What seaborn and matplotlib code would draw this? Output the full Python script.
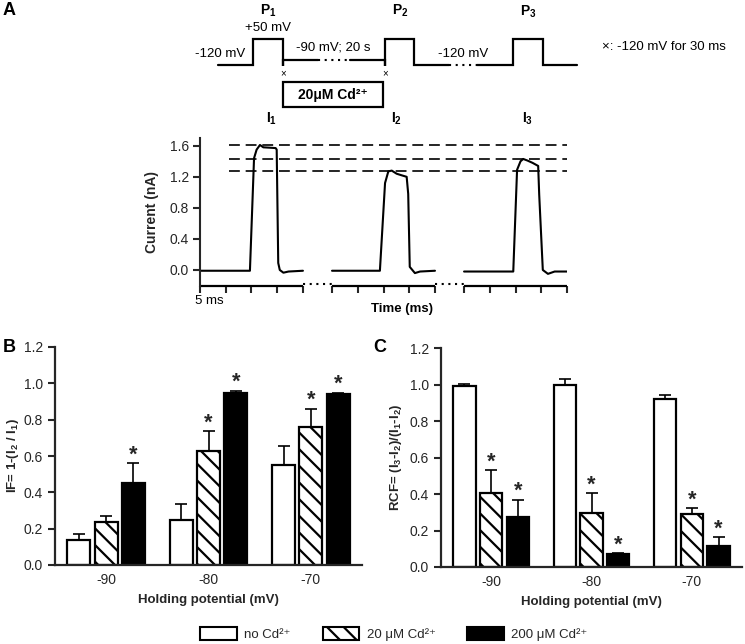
import numpy as np
import pandas as pd
import matplotlib
matplotlib.use("Agg")
import matplotlib.pyplot as plt
import matplotlib.transforms as mtransforms
import seaborn as sns
from matplotlib.patches import Patch, Rectangle

sns.set_theme(style="ticks")
plt.rcParams['font.family'] = ['Liberation Sans', 'DejaVu Sans']
plt.rcParams['mathtext.fontset'] = 'custom'
plt.rcParams['mathtext.rm'] = 'Liberation Sans'
plt.rcParams['mathtext.bf'] = 'Liberation Sans:bold'
plt.rcParams['mathtext.it'] = 'Liberation Sans:italic'
plt.rcParams['hatch.linewidth'] = 1.6
plt.rcParams['hatch.color'] = 'black'

# ---- data ----
# current traces (time in ms from start of each 20 ms sweep, current in nA)
t1 = [0, 5, 9.7, 10.5, 11.0, 11.65, 12.3, 13.6, 14.7, 14.9, 15.2, 15.5, 16.2, 17.2, 20]
i1 = [-0.01, -0.01, -0.01, 1.44, 1.55, 1.61, 1.58, 1.575, 1.57, 1.55, 0.09, 0.0, -0.035, -0.02, -0.01]
t2 = [0, 5, 9.3, 10.3, 10.94, 11.6, 12.55, 13.5, 14.5, 14.8, 15.1, 16.1, 17.1, 20]
i2 = [-0.01, -0.01, -0.01, 1.12, 1.27, 1.28, 1.24, 1.22, 1.20, 0.98, 0.04, -0.04, -0.02, -0.01]
t3 = [0, 5, 9.56, 10.3, 10.97, 11.5, 12.3, 13.3, 14.4, 14.6, 15.3, 16.3, 17.6, 20]
i3 = [-0.02, -0.02, -0.02, 1.29, 1.40, 1.43, 1.41, 1.38, 1.34, 0.97, 0.0, -0.05, -0.02, -0.02]
peak_levels = [1.61, 1.43, 1.28]
seg_starts = [0, 25.65, 51.3]
seg_len = 20

# stimulation protocol (schematic time units, mV)
prot_t = [[218, 253, 253, 283, 283, 283, 318],
          [350, 385, 385, 385, 414, 414, 449],
          [477, 513, 513, 543, 543, 577]]
prot_v = [[-120, -120, 50, 50, -132, -90, -90],
          [-90, -90, -132, 50, 50, -120, -120],
          [-120, -120, 50, 50, -120, -120]]
prot_dots_t = [[318, 350], [449, 477]]
prot_dots_v = [-90, -120]

potentials = ['-90', '-80', '-70']
conditions = ['no Cd²⁺', '20 μM Cd²⁺', '200 μM Cd²⁺']

if_none = [0.135, 0.245, 0.55]
if_none_err = [0.035, 0.09, 0.105]
if_20 = [0.235, 0.625, 0.76]
if_20_err = [0.035, 0.11, 0.10]
if_200 = [0.45, 0.948, 0.94]
if_200_err = [0.11, 0.01, 0.008]
if_stars = [[0, 0, 0], [0, 1, 1], [1, 1, 1]]

rcf_none = [0.99, 1.0, 0.918]
rcf_none_err = [0.012, 0.03, 0.027]
rcf_20 = [0.405, 0.297, 0.288]
rcf_20_err = [0.125, 0.107, 0.035]
rcf_200 = [0.272, 0.07, 0.116]
rcf_200_err = [0.095, 0.005, 0.048]
rcf_stars = [[0, 0, 0], [1, 1, 1], [1, 1, 1]]

W, H = 745, 644
fig = plt.figure(figsize=(7.45, 6.44), dpi=100)


def box(x0, y0, x1, y1):
    # pixel box (top-left origin) -> figure fraction rect
    return [x0 / W, 1 - y1 / H, (x1 - x0) / W, (y1 - y0) / H]


# overlay axes in pixel coords for the annotations
ov = fig.add_axes([0, 0, 1, 1])
ov.set_xlim(0, W)
ov.set_ylim(H, 0)
ov.axis('off')

# ---- panel A: protocol ----
pa = fig.add_axes(box(200, 37.0, 600, 67.6))
pa.set_xlim(200, 600)
pa.set_ylim(-140, 60)
pa.axis('off')
for tt, vv in zip(prot_t, prot_v):
    pa.plot(tt, vv, color='black', lw=1.6, clip_on=False, solid_joinstyle='miter')
for tt, vv in zip(prot_dots_t, prot_dots_v):
    pa.plot(tt, [vv, vv], color='black', lw=1.5, ls=(0, (1, 2.2)), clip_on=False)

txt = dict(ha='center', va='center', color='black')
ov.text(268, 11, r'P$_\mathbf{1}$', fontsize=10, fontweight='bold', **txt)
ov.text(400, 11, r'P$_\mathbf{2}$', fontsize=10, fontweight='bold', **txt)
ov.text(528, 12, r'P$_\mathbf{3}$', fontsize=10, fontweight='bold', **txt)
ov.text(268, 28, '+50 mV', fontsize=9.5, **txt)
ov.text(220, 54, '-120 mV', fontsize=9.5, **txt)
ov.text(333, 47, '-90 mV; 20 s', fontsize=9.5, **txt)
ov.text(463, 54, '-120 mV', fontsize=9.5, **txt)
ov.text(664, 47, '×: -120 mV for 30 ms', fontsize=9.5, **txt)
ov.text(283, 73, '×', fontsize=7, **txt)
ov.text(385, 73, '×', fontsize=7, **txt)
ov.add_patch(Rectangle((283, 82), 100, 25, fill=False, lw=1.6, ec='black'))
ov.text(333, 95, '20μM Cd²⁺', fontsize=10, fontweight='bold', **txt)
ov.text(272, 119, r'I$_\mathbf{1}$', fontsize=10, fontweight='bold', **txt)
ov.text(397, 119, r'I$_\mathbf{2}$', fontsize=10, fontweight='bold', **txt)
ov.text(528, 119, r'I$_\mathbf{3}$', fontsize=10, fontweight='bold', **txt)
ov.text(9, 10, 'A', fontsize=13, fontweight='bold', **txt)
ov.text(9, 347, 'B', fontsize=13, fontweight='bold', **txt)
ov.text(380, 347, 'C', fontsize=13, fontweight='bold', **txt)

# ---- panel A: current traces ----
ax = fig.add_axes(box(200, 138, 567, 285.5))
total = seg_starts[-1] + seg_len
for st, tt, ii in zip(seg_starts, [t1, t2, t3], [i1, i2, i3]):
    sns.lineplot(x=np.array(tt) + st, y=ii, ax=ax, color='black', lw=1.5,
                 sort=False, estimator=None)
for lev in peak_levels:
    ax.plot([5.6, total], [lev, lev], color='black', lw=1.2, ls=(0, (6.5, 3.5)))
ax.set_xlim(0, total)
ax.set_ylim(-0.2, 1.7)
ax.set_yticks([0, 0.4, 0.8, 1.2, 1.6])
ax.set_yticklabels(['0.0', '0.4', '0.8', '1.2', '1.6'])
xt = [st + k * 5 for st in seg_starts for k in range(5)]
ax.set_xticks(xt)
ax.set_xticklabels([])
ax.tick_params(axis='both', direction='out', length=5, width=1.5, labelsize=10, pad=3)
sns.despine(ax=ax, bottom=True)
ax.spines['left'].set_linewidth(1.5)
trans = mtransforms.blended_transform_factory(ax.transData, ax.transAxes)
for st in seg_starts:
    ax.plot([st, st + seg_len], [0, 0], color='black', lw=1.6, transform=trans,
            clip_on=False, solid_capstyle='butt')
for st in seg_starts[:-1]:
    ax.plot([st + seg_len, st + seg_starts[1]], [0.01, 0.01], color='black', lw=1.5,
            ls=(0, (1, 2.2)), transform=trans, clip_on=False)
ax.set_ylabel('Current (nA)', fontsize=10, fontweight='bold', labelpad=8)
ov.text(209, 301, '5 ms', fontsize=9.5, **txt)
ov.text(402, 309, 'Time (ms)', fontsize=9.5, fontweight='bold', **txt)


# ---- panels B and C ----
def bar_panel(ax, means, errs, stars, ylabel, ypad):
    rows = []
    for c, m in zip(conditions, means):
        for p, v in zip(potentials, m):
            rows.append({'potential': p, 'condition': c, 'value': v})
    df = pd.DataFrame(rows)
    sns.barplot(data=df, x='potential', y='value', hue='condition', order=potentials,
                hue_order=conditions, palette=['white', 'white', 'black'], saturation=1,
                edgecolor='black', linewidth=1.6, width=0.8, gap=0.16,
                errorbar=None, legend=False, ax=ax)
    bar_conts = list(ax.containers)
    for k, cont in enumerate(bar_conts):
        for j, bar in enumerate(cont):
            if k == 1:
                bar.set_hatch('\\\\')
            xc = bar.get_x() + bar.get_width() / 2
            h = bar.get_height()
            e = errs[k][j]
            ax.errorbar([xc], [h], yerr=[[0], [e]], fmt='none', ecolor='black',
                        elinewidth=1.2, capsize=4.5, capthick=1.2, zorder=1)
            if stars[k][j]:
                ax.annotate('*', (xc, h + e), xytext=(0, 6), textcoords='offset points',
                            ha='center', va='center', fontsize=15.5, fontweight='bold')
    ax.set_xlim(-0.5, 2.5)
    ax.set_ylim(0, 1.2)
    ax.set_yticks(np.arange(0, 1.21, 0.2))
    ax.set_yticklabels(['%.1f' % v for v in np.arange(0, 1.21, 0.2)])
    ax.tick_params(axis='y', direction='out', length=5, width=1.5, labelsize=10)
    ax.tick_params(axis='x', length=0, labelsize=10, pad=6)
    sns.despine(ax=ax)
    for s in ['left', 'bottom']:
        ax.spines[s].set_linewidth(1.6)
    ax.set_xlabel('Holding potential (mV)', fontsize=9.5, fontweight='bold', labelpad=5)
    ax.set_ylabel(ylabel, fontsize=9.5, fontweight='bold', labelpad=ypad)


axb = fig.add_axes(box(55, 347, 362, 565))
bar_panel(axb, [if_none, if_20, if_200], [if_none_err, if_20_err, if_200_err], if_stars,
          r'IF= 1-(I$_\mathbf{2}$ / I$_\mathbf{1}$)', 2)
axc = fig.add_axes(box(441, 348, 742, 567))
bar_panel(axc, [rcf_none, rcf_20, rcf_200], [rcf_none_err, rcf_20_err, rcf_200_err],
          rcf_stars, r'RCF= (I$_\mathbf{3}$-I$_\mathbf{2}$)/(I$_\mathbf{1}$-I$_\mathbf{2}$)', 4)

# ---- legend ----
handles = [Patch(facecolor='white', edgecolor='black', lw=1.5),
           Patch(facecolor='white', edgecolor='black', lw=1.5, hatch='\\\\'),
           Patch(facecolor='black', edgecolor='black', lw=1.5)]
fig.legend(handles, conditions, loc='center', bbox_to_anchor=(394 / W, 1 - 634 / H),
           ncol=3, frameon=False, fontsize=9.5, handlelength=2.8, handleheight=1.2,
           columnspacing=2.4, handletextpad=0.55)

fig.savefig('out.png', dpi=100)
